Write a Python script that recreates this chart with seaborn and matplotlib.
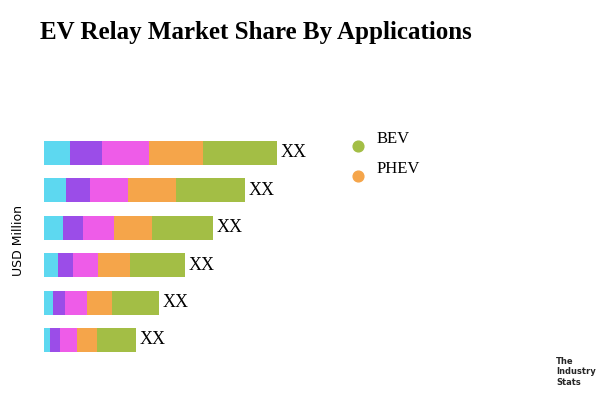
import numpy as np
import pandas as pd
import seaborn as sns
import matplotlib
matplotlib.use("Agg")
import matplotlib.pyplot as plt

rows = ["r1", "r2", "r3", "r4", "r5", "r6"]
seg_a = [26, 22, 19, 14, 9, 6]     # cyan
seg_b = [32, 24, 20, 15, 12, 10]   # purple
seg_c = [47, 38, 31, 25, 22, 17]   # magenta
phev = [54, 48, 38, 32, 25, 20]    # orange
bev = [74, 69, 61, 55, 47, 39]     # green
labels = ["XX"] * 6
colors = ["#5DD8F0", "#9B4DE8", "#EE5CE8", "#F5A54A", "#A3BE45"]

sns.set_style("white")
serif = "Liberation Serif"
fig = plt.figure(figsize=(6, 4), dpi=100)
ax = fig.add_axes([44/600, 1-362/400, 300/600, 230/400])

segs = [seg_a, seg_b, seg_c, phev, bev]
cum = np.cumsum(np.array(segs), axis=0)
for i in range(len(segs) - 1, -1, -1):
    df = pd.DataFrame({"row": rows, "val": cum[i]})
    sns.barplot(data=df, x="val", y="row", orient="h", color=colors[i],
                saturation=1, width=0.64, linewidth=0, ax=ax)
for j, t in enumerate(cum[-1]):
    ax.text(t + 4, j, labels[j], va="center", ha="left", fontsize=13,
            family=serif, color="black")
ax.set_xlim(0, 300)
ax.set_ylim(5.59, -0.56)
ax.axis("off")

fig.text(40/600, 1-32/400, "EV Relay Market Share By Applications", fontsize=18,
         fontweight="bold", family=serif, va="center", color="black")
fig.text(18/600, 1-240/400, "USD Million", rotation=90, fontsize=9,
         va="center", ha="center", color="black")
lax = fig.add_axes([0, 0, 1, 1], facecolor="none")
lax.set_xlim(0, 600)
lax.set_ylim(400, 0)
lax.axis("off")
for y, name, c in [(146, "BEV", colors[4]), (176, "PHEV", colors[3])]:
    lax.scatter([358], [y], s=60, color=c)
    lax.text(377, y - 7, name, fontsize=12, family=serif, va="center",
             color="black")
fig.text(556/600, 1-372/400, "The\nIndustry\nStats", fontsize=6,
         ha="left", va="center", fontweight="bold")
fig.savefig("out.png", dpi=100)
